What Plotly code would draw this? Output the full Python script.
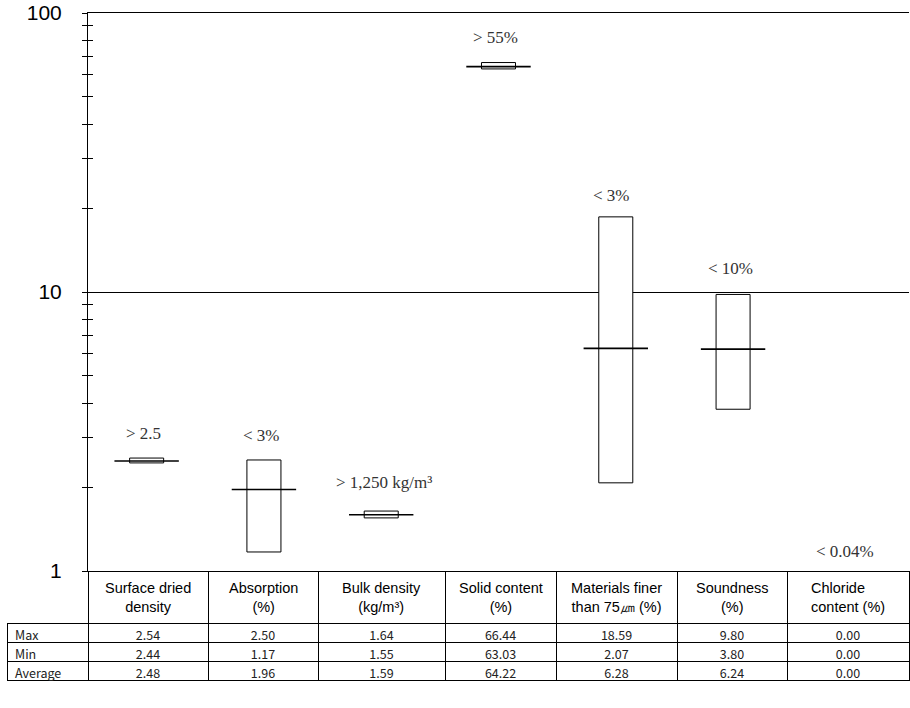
import numpy as np
import plotly.graph_objects as go

# ---------------- data ----------------
categories = ["Surface dried density", "Absorption", "Bulk density", "Solid content",
              "Materials finer than 75㎛", "Soundness", "Chloride content"]
header_labels = ["Surface dried<br>density", "Absorption<br>(%)", "Bulk density<br>(kg/m³)",
                 "Solid content<br>(%)", "Materials finer<br>than 75㎛ (%)", "Soundness<br>(%)",
                 "Chloride<br>content (%)"]
max_vals = [2.54, 2.50, 1.64, 66.44, 18.59, 9.80, 0.00]
min_vals = [2.44, 1.17, 1.55, 63.03, 2.07, 3.80, 0.00]
avg_vals = [2.48, 1.96, 1.59, 64.22, 6.28, 6.24, 0.00]
spec_labels = ["> 2.5", "< 3%", "> 1,250 kg/m³", "> 55%", "< 3%", "< 10%", "< 0.04%"]
row_labels = ["Max", "Min", "Average"]
y_tick_vals = [1, 10, 100]
y_minor_vals = [2, 3, 4, 5, 6, 7, 8, 9, 20, 30, 40, 50, 60, 70, 80, 90]

# ---------------- layout geometry (pixels) ----------------
W, H = 910, 708
PLOT_L, PLOT_R, PLOT_T, PLOT_B = 88, 909, 13, 571
TBL_L = 7
col_widths = [81, 120, 110, 127, 111, 121, 110, 122]
HEADER_H, ROW_H = 52, 19

fig = go.Figure()

pos = [v > 0 for v in max_vals]
fig.add_trace(go.Bar(
    x=categories,
    y=[mx - mn if p else None for mx, mn, p in zip(max_vals, min_vals, pos)],
    base=[mn if p else None for mn, p in zip(min_vals, pos)],
    width=0.29,
    marker=dict(color="white", line=dict(color="black", width=1)),
    showlegend=False, hoverinfo="skip",
))
fig.add_trace(go.Scatter(
    x=categories,
    y=[a if p else None for a, p in zip(avg_vals, pos)],
    mode="markers",
    marker=dict(symbol="line-ew", size=46, color="black",
                line=dict(color="black", width=1.6)),
    yaxis="y2", showlegend=False, hoverinfo="skip",
))

# specification labels above each range
label_yshift = [13, 13, 17, 14, 10, 14, 8]
label_xshift = [-3, -2, 3, -3, -4, -3, -5]
for i, lab in enumerate(spec_labels):
    yv = np.log10(max_vals[i]) if max_vals[i] > 0 else 0
    fig.add_annotation(x=categories[i], y=yv, xref="x", yref="y", text=lab,
                       showarrow=False, yanchor="bottom", yshift=label_yshift[i],
                       xshift=label_xshift[i],
                       font=dict(family="Liberation Serif", size=17, color="#333333"))

# data table
cell_cols = [row_labels] + [[f"{mx:.2f}", f"{mn:.2f}", f"{av:.2f}"]
                            for mx, mn, av in zip(max_vals, min_vals, avg_vals)]
tbl_w = sum(col_widths)
fig.add_trace(go.Table(
    domain=dict(x=[TBL_L / W, (TBL_L + tbl_w) / W], y=[0, (H - PLOT_B) / H]),
    columnwidth=col_widths,
    header=dict(values=[""] * 8, height=HEADER_H,
                fill=dict(color=["rgba(0,0,0,0)"] + ["white"] * 7),
                line=dict(color="black", width=[0] + [1] * 7),
                font=dict(size=1)),
    cells=dict(values=cell_cols, height=ROW_H,
               align=["left"] + ["center"] * 7,
               fill=dict(color="white"),
               line=dict(color="black", width=1),
               font=dict(family="Noto Sans CJK KR", size=12.5, color="#222222")),
))

# header texts (each line centred inside its column)
edges = TBL_L + np.cumsum([0] + col_widths)
for j, lab in enumerate(header_labels):
    cx = (edges[j + 1] + edges[j + 2]) / 2
    fig.add_annotation(x=cx / W, y=(H - (PLOT_B + HEADER_H / 2)) / H,
                       xref="paper", yref="paper", text=lab, showarrow=False,
                       xanchor="center", yanchor="middle",
                       align="left" if j == 6 else "center",
                       font=dict(family="Liberation Sans", size=14.5, color="black"))

yaxis_common = dict(type="log", range=[0, 2],
                    domain=[(H - PLOT_B) / H, (H - PLOT_T) / H])
fig.update_layout(
    width=W, height=H,
    margin=dict(l=0, r=0, t=0, b=0),
    paper_bgcolor="white", plot_bgcolor="white",
    barmode="overlay",
    xaxis=dict(domain=[PLOT_L / W, PLOT_R / W], range=[-0.5, 6.5], showticklabels=False,
               ticks="", showgrid=False, zeroline=False, showline=True,
               linecolor="black", linewidth=1, mirror=True, fixedrange=True),
    yaxis=dict(**yaxis_common, tickvals=y_tick_vals, ticktext=[str(v) for v in y_tick_vals],
               ticks="outside", ticklen=5, tickcolor="black",
               minor=dict(tickvals=y_minor_vals, ticks="outside", ticklen=5,
                          tickcolor="black", showgrid=False),
               showgrid=True, gridcolor="black", gridwidth=1.2,
               showline=True, linecolor="black", linewidth=1,
               ticklabelstandoff=16,
               tickfont=dict(family="Liberation Sans", size=21, color="black"),
               automargin=False, fixedrange=True),
    yaxis2=dict(**yaxis_common, overlaying="y", anchor="x", side="left",
                tickvals=y_tick_vals, ticks="inside", ticklen=5, tickcolor="black",
                minor=dict(tickvals=y_minor_vals, ticks="inside", ticklen=5,
                           tickcolor="black", showgrid=False),
                showticklabels=False, showgrid=False, showline=False,
                automargin=False, fixedrange=True),
)

fig.write_html("out.html", config={"displayModeBar": False},
               post_script="document.body.style.margin='0px';")
